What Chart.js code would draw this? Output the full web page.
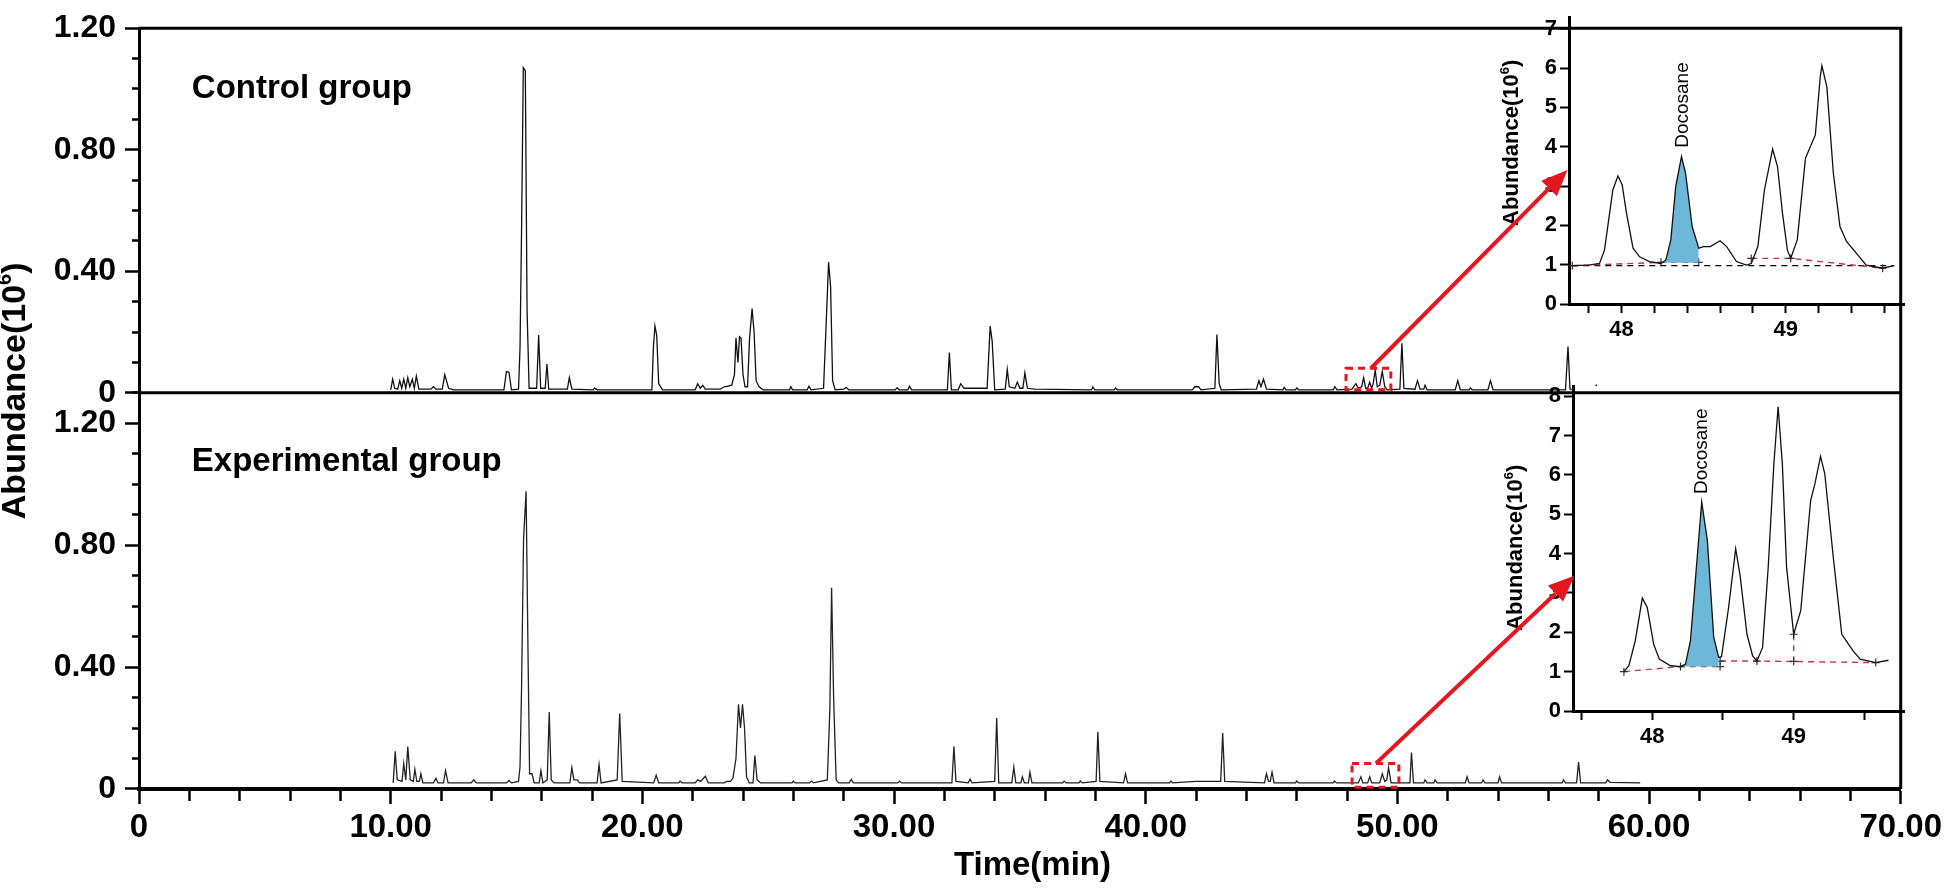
<!DOCTYPE html>
<html>
<head>
<meta charset="utf-8">
<script src="https://cdn.jsdelivr.net/npm/chart.js@4.4.1/dist/chart.umd.min.js"></script>
<style>
html, body { margin: 0; padding: 0; background: #fff; }
#wrap { position: relative; width: 1946px; height: 888px; }
#wrap canvas { position: absolute; left: 0; top: 0; }
</style>
</head>
<body>
<div id="wrap">
  <canvas id="mainChart" width="1946" height="888"></canvas>
  <canvas id="insetTop" width="1946" height="888"></canvas>
  <canvas id="insetBottom" width="1946" height="888"></canvas>
  <canvas id="overlay" width="1946" height="888"></canvas>
</div>
<script>
// Control group chromatogram (time in min, abundance x10^6)
const controlTime = [10.0, 10.08, 10.16, 10.28, 10.36, 10.44, 10.52, 10.6, 10.68, 10.76, 10.86, 10.94, 11.02, 11.12, 11.6, 11.7, 11.8, 12.05, 12.15, 12.3, 12.5,
  14.5, 14.6, 14.7, 14.8, 15.08, 15.14, 15.2, 15.27, 15.35, 15.42, 15.5, 15.8, 15.88, 15.96, 16.14, 16.21, 16.28, 17.02, 17.1, 17.2, 18.05, 18.1, 18.2,
  20.38, 20.44, 20.5, 20.57, 20.65, 20.8, 22.1, 22.2, 22.3, 22.4, 22.5, 23.1, 23.25, 23.4, 23.55, 23.66, 23.72, 23.8, 23.86, 23.92, 24.0, 24.08, 24.18,
  24.26, 24.36, 24.44, 24.52, 24.64, 24.8, 25.85, 25.9, 25.97, 26.55, 26.62, 26.7, 27.2, 27.3, 27.4, 27.48, 27.56, 27.66, 28.0, 28.1, 28.2,
  30.05, 30.12, 30.2, 30.55, 30.62, 30.7, 32.12, 32.2, 32.28, 32.55, 32.65, 32.78, 33.7, 33.82, 33.9, 34.0, 34.42, 34.5, 34.58, 34.8, 34.9, 35.0,
  35.12, 35.2, 35.3, 35.6, 37.85, 37.9, 37.98, 38.75, 38.8, 38.88, 41.85, 41.95, 42.1, 42.2, 42.75, 42.83, 42.92, 43.0, 44.4, 44.5, 44.58, 44.68, 44.8,
  45.45, 45.5, 45.58, 45.95, 46.0, 46.08, 47.45, 47.52, 47.6, 48.2, 48.35, 48.45, 48.58, 48.66, 48.74, 48.82, 48.9, 48.98, 49.04, 49.12, 49.2, 49.3,
  49.4, 49.5, 49.6, 50.1, 50.18, 50.26, 50.7, 50.8, 50.9, 51.05, 51.1, 51.18, 52.3, 52.4, 52.5, 52.85, 52.9, 52.98, 53.6, 53.7, 53.8,
  56.68, 56.78, 56.86, 57.8, 57.9, 58.0, 59.3];
const controlAbund = [0.010, 0.045, 0.015, 0.012, 0.040, 0.015, 0.045, 0.015, 0.050, 0.020, 0.045, 0.015, 0.055, 0.012, 0.012, 0.020, 0.012, 0.012, 0.060, 0.015, 0.010,
  0.010, 0.070, 0.068, 0.010, 0.012, 0.150, 0.530, 1.070, 1.060, 0.270, 0.015, 0.015, 0.190, 0.015, 0.015, 0.095, 0.012, 0.012, 0.050, 0.012, 0.010, 0.016, 0.010,
  0.010, 0.150, 0.220, 0.190, 0.030, 0.010, 0.010, 0.030, 0.015, 0.025, 0.012, 0.012, 0.020, 0.022, 0.025, 0.060, 0.180, 0.100, 0.185, 0.180, 0.060, 0.020, 0.020,
  0.180, 0.277, 0.200, 0.040, 0.020, 0.010, 0.010, 0.020, 0.010, 0.010, 0.022, 0.010, 0.015, 0.220, 0.430, 0.350, 0.040, 0.010, 0.012, 0.018, 0.010,
  0.010, 0.017, 0.010, 0.010, 0.022, 0.010, 0.010, 0.133, 0.010, 0.010, 0.030, 0.015, 0.015, 0.220, 0.170, 0.010, 0.012, 0.077, 0.020, 0.015, 0.035, 0.015,
  0.015, 0.066, 0.015, 0.012, 0.010, 0.020, 0.010, 0.010, 0.016, 0.010, 0.010, 0.020, 0.020, 0.010, 0.015, 0.192, 0.030, 0.010, 0.012, 0.040, 0.020, 0.045, 0.012,
  0.010, 0.018, 0.010, 0.010, 0.016, 0.010, 0.010, 0.020, 0.010, 0.012, 0.030, 0.015, 0.020, 0.050, 0.015, 0.015, 0.035, 0.015, 0.030, 0.075, 0.020, 0.025,
  0.070, 0.020, 0.010, 0.012, 0.163, 0.015, 0.012, 0.040, 0.012, 0.012, 0.025, 0.010, 0.010, 0.040, 0.010, 0.010, 0.016, 0.010, 0.010, 0.040, 0.010,
  0.010, 0.152, 0.012, 0.010, 0.025, 0.012, 0.012];

// Experimental group chromatogram
const expTime = [10.1, 10.18, 10.26, 10.45, 10.52, 10.6, 10.68, 10.78, 10.9, 10.96, 11.04, 11.14, 11.2, 11.28, 11.7, 11.8, 11.88, 12.1, 12.18, 12.28,
  13.2, 13.3, 13.4, 14.6, 14.7, 14.8, 15.08, 15.14, 15.2, 15.28, 15.38, 15.46, 15.52, 15.62, 15.7, 15.9, 15.97, 16.05, 16.22, 16.3, 16.38, 16.5,
  17.12, 17.2, 17.28, 17.42, 17.5, 18.2, 18.28, 18.36, 19.0, 19.1, 19.2, 20.45, 20.55, 20.65, 21.45, 21.5, 21.58, 22.1, 22.2, 22.32, 22.5, 22.62,
  23.25, 23.35, 23.5, 23.6, 23.72, 23.82, 23.9, 23.98, 24.06, 24.14, 24.25, 24.4, 24.47, 24.56, 24.7, 25.95, 26.0, 26.07, 26.65, 26.72, 26.8,
  27.35, 27.45, 27.52, 27.6, 27.7, 27.8, 28.22, 28.3, 28.38, 30.15, 30.22, 30.3, 32.3, 32.38, 32.46, 32.95, 33.02, 33.1, 34.0, 34.08, 34.16,
  34.68, 34.76, 34.84, 35.04, 35.1, 35.18, 35.34, 35.4, 35.48, 36.7, 36.76, 36.84, 37.35, 37.4, 37.48, 38.03, 38.1, 38.18, 39.12, 39.2, 39.28,
  40.95, 41.0, 41.06, 42.0, 42.5, 42.98, 43.06, 43.14, 44.72, 44.8, 44.88, 44.95, 45.02, 45.1, 45.95, 46.0, 46.08, 47.45, 47.5, 47.58,
  48.45, 48.55, 48.63, 48.82, 48.9, 48.98, 49.3, 49.4, 49.5, 49.58, 49.65, 49.75, 50.5, 50.56, 50.64, 51.05, 51.1, 51.18, 51.45, 51.5, 51.58,
  52.7, 52.77, 52.85, 53.35, 53.4, 53.48, 54.0, 54.06, 54.14, 56.55, 56.6, 56.68, 57.12, 57.2, 57.28, 58.28, 58.35, 58.45, 59.65];
const expAbund = [0.020, 0.124, 0.030, 0.025, 0.084, 0.030, 0.139, 0.030, 0.025, 0.065, 0.025, 0.025, 0.050, 0.020, 0.020, 0.035, 0.020, 0.020, 0.060, 0.020,
  0.020, 0.030, 0.020, 0.020, 0.028, 0.020, 0.025, 0.074, 0.330, 0.820, 0.977, 0.430, 0.050, 0.050, 0.020, 0.020, 0.060, 0.020, 0.030, 0.253, 0.030, 0.020,
  0.020, 0.070, 0.030, 0.030, 0.020, 0.020, 0.080, 0.020, 0.030, 0.248, 0.025, 0.020, 0.045, 0.020, 0.020, 0.026, 0.020, 0.020, 0.030, 0.025, 0.042, 0.020,
  0.020, 0.025, 0.025, 0.035, 0.100, 0.278, 0.200, 0.278, 0.200, 0.040, 0.020, 0.020, 0.110, 0.030, 0.020, 0.020, 0.026, 0.020, 0.020, 0.026, 0.020,
  0.030, 0.260, 0.660, 0.300, 0.030, 0.020, 0.020, 0.032, 0.020, 0.020, 0.026, 0.020, 0.020, 0.140, 0.025, 0.020, 0.032, 0.020, 0.025, 0.233, 0.020,
  0.020, 0.072, 0.020, 0.020, 0.040, 0.020, 0.020, 0.055, 0.020, 0.020, 0.026, 0.020, 0.020, 0.026, 0.020, 0.025, 0.188, 0.025, 0.020, 0.050, 0.020,
  0.020, 0.026, 0.020, 0.025, 0.025, 0.025, 0.184, 0.025, 0.020, 0.050, 0.025, 0.025, 0.055, 0.020, 0.020, 0.026, 0.020, 0.020, 0.026, 0.020,
  0.020, 0.040, 0.020, 0.020, 0.040, 0.020, 0.020, 0.050, 0.025, 0.030, 0.070, 0.020, 0.020, 0.120, 0.020, 0.020, 0.030, 0.020, 0.020, 0.030, 0.020,
  0.020, 0.040, 0.020, 0.020, 0.030, 0.020, 0.020, 0.040, 0.020, 0.020, 0.030, 0.020, 0.020, 0.088, 0.020, 0.020, 0.030, 0.022, 0.020];

// Zoomed window 47.7-49.7 min, control group
const zoomTopTime = [47.70, 47.80, 47.866, 47.896, 47.947, 47.978, 48.004, 48.03, 48.07, 48.11, 48.17, 48.24, 48.27, 48.30, 48.33, 48.365, 48.39, 48.43,
  48.47, 48.50, 48.54, 48.60, 48.64, 48.70, 48.76, 48.79, 48.83, 48.87, 48.92, 48.95, 48.98, 49.01, 49.03, 49.07, 49.12, 49.18, 49.21, 49.22, 49.25,
  49.29, 49.33, 49.37, 49.49, 49.59, 49.66];
const zoomTopAbund = [0.975, 0.99, 1.03, 1.37, 2.90, 3.26, 3.03, 2.31, 1.42, 1.20, 1.08, 1.03, 1.12, 1.63, 2.99, 3.75, 3.32, 1.97,
  1.42, 1.46, 1.46, 1.61, 1.46, 1.08, 0.99, 1.03, 1.46, 2.90, 3.94, 3.49, 2.31, 1.37, 1.16, 1.63, 3.71, 4.30, 5.78, 6.06, 5.53,
  3.32, 1.97, 1.59, 0.99, 0.91, 0.975];
const docosaneTopTime = [48.25, 48.27, 48.30, 48.33, 48.365, 48.39, 48.43, 48.47];
const docosaneTopAbund = [1.05, 1.12, 1.63, 2.99, 3.75, 3.32, 1.97, 1.42];
const baseTopTime = [47.70, 49.66];
const baseTopAbund = [0.975, 0.975];
const splitTopTime = [47.70, 48.24, 48.47, 48.6, 48.79, 49.03, 49.59];
const splitTopAbund = [0.975, 1.06, 1.06, null, 1.16, 1.16, 0.91];

// Zoomed window 47.5-49.7 min, experimental group
const zoomBotTime = [47.80, 47.835, 47.88, 47.93, 47.965, 48.01, 48.05, 48.13, 48.20, 48.235, 48.27, 48.32, 48.35, 48.39, 48.435, 48.47, 48.49,
  48.54, 48.59, 48.62, 48.67, 48.71, 48.74, 48.78, 48.82, 48.86, 48.89, 48.92, 48.95, 49.0, 49.05, 49.12, 49.15, 49.19, 49.22, 49.28, 49.34,
  49.42, 49.47, 49.58, 49.67];
const zoomBotAbund = [1.00, 1.15, 1.78, 2.87, 2.63, 1.70, 1.32, 1.15, 1.13, 1.19, 1.78, 3.99, 5.31, 4.33, 1.87, 1.36, 1.38,
  2.63, 4.12, 3.48, 1.95, 1.40, 1.27, 1.61, 3.65, 6.28, 7.73, 6.28, 3.65, 1.95, 2.55, 5.35, 5.77, 6.47, 6.03, 3.91, 1.95,
  1.53, 1.32, 1.23, 1.29];
const docosaneBotTime = [48.225, 48.235, 48.27, 48.32, 48.35, 48.39, 48.435, 48.47];
const docosaneBotAbund = [1.13, 1.19, 1.78, 3.99, 5.31, 4.33, 1.87, 1.36];
const splitBotTime = [47.80, 48.20, 48.48, 48.48, 48.48, 48.74, 49.58, 49.0, 49.0, 49.0];
const splitBotAbund = [1.00, 1.13, 1.13, null, 1.27, 1.27, 1.23, null, 1.95, 1.26];

const FONT = '"Liberation Sans", Arial, Helvetica, sans-serif';
const RED = '#e5161d';

function pts(xs, ys) {
  return xs.map((x, i) => ({ x: x, y: ys[i] }));
}

function isMajorY(v) {
  return Math.abs(v / 0.4 - Math.round(v / 0.4)) < 1e-6;
}

function drawAbundance(ctx, x, y, size) {
  const big = `bold ${size}px ${FONT}`;
  const small = `bold ${Math.round(size * 0.6)}px ${FONT}`;
  ctx.save();
  ctx.translate(x, y);
  ctx.rotate(-Math.PI / 2);
  ctx.fillStyle = '#000';
  ctx.textBaseline = 'middle';
  ctx.textAlign = 'left';
  ctx.font = big;
  const w1 = ctx.measureText('Abundance(10').width;
  const w3 = ctx.measureText(')').width;
  ctx.font = small;
  const w2 = ctx.measureText('6').width;
  const start = -(w1 + w2 + w3) / 2;
  ctx.font = big;
  ctx.fillText('Abundance(10', start, 0);
  ctx.font = small;
  ctx.fillText('6', start + w1, -size * 0.32);
  ctx.font = big;
  ctx.fillText(')', start + w1 + w2, 0);
  ctx.restore();
}

function panelScale(max, weight) {
  return {
    type: 'linear',
    position: 'left',
    stack: 'panels',
    stackWeight: weight,
    min: 0,
    max: max,
    border: { display: true, color: '#000', width: 3 },
    grid: {
      drawOnChartArea: false,
      tickLength: 14,
      tickWidth: 2.5,
      tickColor: '#000',
      tickBorderDash: ctx => (ctx.tick && isMajorY(ctx.tick.value)) ? [] : [0, 7, 100]
    },
    ticks: {
      stepSize: 0.1,
      autoSkip: false,
      color: '#000',
      padding: 9,
      font: { family: FONT, size: 32, weight: 'bold' },
      callback: v => isMajorY(v) ? (Math.abs(v) < 1e-9 ? '0' : v.toFixed(2)) : ''
    },
    afterFit: s => { s.width = 139; }
  };
}

// group labels, axis titles and the dashed selection boxes
const mainDecor = {
  id: 'mainDecor',
  afterDraw(chart) {
    const ctx = chart.ctx;
    const x = chart.scales.x, yTop = chart.scales.yTop, yBot = chart.scales.yBot;
    ctx.save();
    ctx.fillStyle = '#000';
    ctx.font = `bold 33px ${FONT}`;
    ctx.textAlign = 'left';
    ctx.textBaseline = 'alphabetic';
    ctx.fillText('Control group', x.getPixelForValue(2.1), yTop.getPixelForValue(0.97));
    ctx.fillText('Experimental group', x.getPixelForValue(2.1), yBot.getPixelForValue(1.042));

    ctx.textAlign = 'center';
    ctx.textBaseline = 'middle';
    ctx.fillText('Time(min)', x.getPixelForValue(35.5), 866);
    drawAbundance(ctx, 16, yTop.bottom - 2, 34);

    ctx.strokeStyle = RED;
    ctx.lineWidth = 3;
    ctx.setLineDash([7, 5]);
    const bx1 = x.getPixelForValue(47.96), bx2 = x.getPixelForValue(49.74);
    const by1 = yTop.getPixelForValue(0.081), by2 = yTop.getPixelForValue(0.01);
    ctx.strokeRect(bx1, by1, bx2 - bx1, by2 - by1);
    const cx1 = x.getPixelForValue(48.2), cx2 = x.getPixelForValue(50.06);
    const cy1 = yBot.getPixelForValue(0.084), cy2 = yBot.getPixelForValue(0.006);
    ctx.strokeRect(cx1, cy1, cx2 - cx1, cy2 - cy1);
    ctx.restore();
  }
};

const mainChart = new Chart(document.getElementById('mainChart'), {
  type: 'line',
  data: {
    datasets: [{
      label: 'Control group',
      data: pts(controlTime, controlAbund),
      yAxisID: 'yTop',
      borderColor: '#111',
      borderWidth: 1.3,
      pointRadius: 0,
      tension: 0
    }, {
      label: 'Experimental group',
      data: pts(expTime, expAbund),
      yAxisID: 'yBot',
      borderColor: '#222',
      borderWidth: 1.3,
      pointRadius: 0,
      tension: 0
    }]
  },
  options: {
    responsive: false,
    animation: false,
    layout: { padding: { left: 0, top: 17, right: 41, bottom: 0 } },
    plugins: { legend: { display: false }, tooltip: { enabled: false } },
    scales: {
      x: {
        type: 'linear',
        position: 'bottom',
        min: 0,
        max: 70,
        border: { display: true, color: '#000', width: 4 },
        grid: {
          drawOnChartArea: false,
          tickLength: 15,
          tickWidth: 2.5,
          tickColor: '#000',
          tickBorderDash: ctx => (ctx.tick && ctx.tick.value % 10 === 0) ? [] : [10, 100]
        },
        ticks: {
          stepSize: 2,
          autoSkip: false,
          maxRotation: 0,
          color: '#000',
          padding: 4,
          font: { family: FONT, size: 33, weight: 'bold' },
          callback: v => v % 10 === 0 ? (v === 0 ? '0' : v.toFixed(2)) : ''
        },
        afterFit: s => { s.height = 99; }
      },
      // stacked left axes are laid out with the last one on top
      yBot: panelScale(1.3, 402),
      yTop: panelScale(1.2, 370)
    }
  },
  plugins: [mainDecor]
});

function insetChart(id, opts) {
  const datasets = [{
    data: pts(opts.time, opts.abund),
    borderColor: '#111',
    borderWidth: 1.3,
    pointRadius: 0,
    tension: 0,
    fill: false
  }, {
    data: pts(opts.fillTime, opts.fillAbund),
    borderColor: 'rgba(0,0,0,0)',
    borderWidth: 0,
    pointRadius: 0,
    backgroundColor: '#6db8d8',
    fill: { value: opts.fillBase }
  }, {
    data: pts(opts.splitTime, opts.splitAbund),
    borderColor: '#c8344e',
    borderWidth: 1.4,
    borderDash: [6, 5],
    pointStyle: 'cross',
    pointRadius: 4,
    pointBorderWidth: 1.2,
    pointBorderColor: '#333',
    spanGaps: false,
    fill: false
  }];
  if (opts.baseTime) {
    datasets.push({
      data: pts(opts.baseTime, opts.baseAbund),
      borderColor: '#000',
      borderWidth: 1.4,
      borderDash: [6, 5],
      pointRadius: 0,
      fill: false
    });
  }
  const decor = {
    id: 'insetDecor',
    beforeDraw(chart) {
      const a = chart.chartArea;
      chart.ctx.save();
      chart.ctx.fillStyle = '#fff';
      chart.ctx.fillRect(a.left, a.top, a.right - a.left, a.bottom - a.top);
      chart.ctx.restore();
    },
    afterDraw(chart) {
      const ctx = chart.ctx;
      const x = chart.scales.x, y = chart.scales.y;
      drawAbundance(ctx, chart.chartArea.left - 57, y.getPixelForValue(opts.titleY), 22);
      ctx.save();
      ctx.translate(x.getPixelForValue(opts.labelX), y.getPixelForValue(opts.labelY));
      ctx.rotate(-Math.PI / 2);
      ctx.fillStyle = '#000';
      ctx.font = `19px ${FONT}`;
      ctx.textAlign = 'center';
      ctx.textBaseline = 'middle';
      ctx.fillText('Docosane', 0, 0);
      ctx.restore();
    }
  };
  return new Chart(document.getElementById(id), {
    type: 'line',
    data: { datasets: datasets },
    options: {
      responsive: false,
      animation: false,
      layout: { padding: opts.padding },
      plugins: { legend: { display: false }, tooltip: { enabled: false } },
      scales: {
        x: {
          type: 'linear',
          min: opts.xMin,
          max: opts.xMax,
          border: { display: true, color: '#000', width: 3 },
          grid: { drawOnChartArea: false, tickLength: 9, tickWidth: 2, tickColor: '#000' },
          ticks: {
            stepSize: opts.xStep,
            includeBounds: false,
            autoSkip: false,
            maxRotation: 0,
            color: '#000',
            padding: 4,
            font: { family: FONT, size: 22, weight: 'bold' },
            callback: v => Math.abs(v - Math.round(v)) < 1e-6 ? String(Math.round(v)) : ''
          },
          afterFit: s => { s.height = 50; }
        },
        y: {
          type: 'linear',
          min: 0,
          max: opts.yMax,
          border: { display: true, color: '#000', width: 3 },
          grid: { drawOnChartArea: false, tickLength: 9, tickWidth: 2, tickColor: '#000' },
          ticks: {
            stepSize: 1,
            includeBounds: false,
            color: '#000',
            padding: 3,
            font: { family: FONT, size: 22, weight: 'bold' }
          },
          afterFit: s => { s.width = 40; }
        }
      }
    },
    plugins: [decor]
  });
}

const insetTop = insetChart('insetTop', {
  time: zoomTopTime, abund: zoomTopAbund,
  fillTime: docosaneTopTime, fillAbund: docosaneTopAbund, fillBase: 1.05,
  splitTime: splitTopTime, splitAbund: splitTopAbund,
  baseTime: baseTopTime, baseAbund: baseTopAbund,
  xMin: 47.68, xMax: 49.72, xStep: 0.2, yMax: 7.3,
  titleY: 4.1, labelX: 48.37, labelY: 5.06,
  padding: { left: 1529, top: 17, right: 42, bottom: 534 }
});

const insetBottom = insetChart('insetBottom', {
  time: zoomBotTime, abund: zoomBotAbund,
  fillTime: docosaneBotTime, fillAbund: docosaneBotAbund, fillBase: 1.13,
  splitTime: splitBotTime, splitAbund: splitBotAbund,
  xMin: 47.44, xMax: 49.78, xStep: 0.5, yMax: 8.26,
  titleY: 4.15, labelX: 48.35, labelY: 6.6,
  padding: { left: 1533, top: 386, right: 42, bottom: 127 }
});

// red arrows from the dashed boxes to the zoomed windows
function drawArrow(ctx, x1, y1, x2, y2) {
  const ang = Math.atan2(y2 - y1, x2 - x1);
  const head = 26, half = 11;
  const bx = x2 - head * Math.cos(ang), by = y2 - head * Math.sin(ang);
  ctx.strokeStyle = RED;
  ctx.fillStyle = RED;
  ctx.lineWidth = 4;
  ctx.beginPath();
  ctx.moveTo(x1, y1);
  ctx.lineTo(bx, by);
  ctx.stroke();
  ctx.beginPath();
  ctx.moveTo(x2, y2);
  ctx.lineTo(bx - half * Math.sin(ang), by + half * Math.cos(ang));
  ctx.lineTo(bx + half * Math.sin(ang), by - half * Math.cos(ang));
  ctx.closePath();
  ctx.fill();
}

const octx = document.getElementById('overlay').getContext('2d');

// outer frame and panel divider go on top so the insets share them
const area = mainChart.chartArea;
const divY = mainChart.scales.yTop.bottom;
octx.strokeStyle = '#000';
octx.lineWidth = 3;
octx.beginPath();
octx.moveTo(area.left, area.top);
octx.lineTo(area.right, area.top);
octx.lineTo(area.right, area.bottom);
octx.moveTo(area.left, divY);
octx.lineTo(area.right, divY);
octx.stroke();

drawArrow(octx,
  mainChart.scales.x.getPixelForValue(48.95), mainChart.scales.yTop.getPixelForValue(0.081),
  insetTop.scales.x.getPixelForValue(47.67), insetTop.scales.y.getPixelForValue(3.41));
drawArrow(octx,
  mainChart.scales.x.getPixelForValue(49.15), mainChart.scales.yBot.getPixelForValue(0.084),
  insetBottom.scales.x.getPixelForValue(47.45), insetBottom.scales.y.getPixelForValue(3.44));
</script>
</body>
</html>
